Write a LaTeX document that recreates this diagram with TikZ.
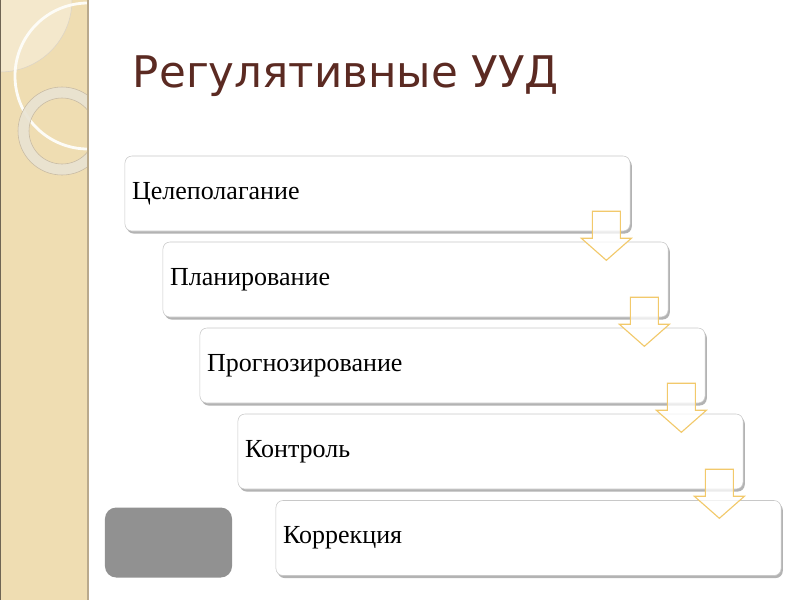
\documentclass[tikz,border=0pt]{standalone}
\usepackage{fontspec}
\setmainfont{Liberation Serif}
\newfontfamily\titlefont{DejaVu Sans}
\usetikzlibrary{shadows,calc}

\definecolor{strip}{HTML}{EFDDB2}
\definecolor{stripedge}{HTML}{B9A98C}
\definecolor{ringfill}{HTML}{E9E3D3}
\definecolor{titlebrown}{HTML}{5B2A22}
\definecolor{arrowgold}{HTML}{F2C96B}
\definecolor{boxline}{HTML}{C8C8C8}

\tikzset{
  stepbox/.style={draw=boxline, fill=white, rounded corners=5pt,
    minimum width=12.625cm, minimum height=1.875cm, text width=12.27cm,
    align=left, inner xsep=5pt, font=\fontsize{18.5}{21}\selectfont,
    drop shadow={shadow xshift=1.2pt, shadow yshift=-1.8pt, opacity=.6}},
  downarrow/.style={draw=arrowgold, line width=.8pt, fill=white, fill opacity=.75}
}

\begin{document}
\begin{tikzpicture}[x=0.025cm, y=-0.025cm]
\useasboundingbox (0,0) rectangle (800,600);
% left strip
\fill[strip] (0,0) rectangle (88,600);
\begin{scope}
\clip (0,0) rectangle (88,600);
\fill[white, opacity=.35] (0,0) circle (72);
\draw[stripedge!50, line width=.4pt] (0,0) circle (72);
\draw[white!90!strip, line width=2pt] (88,76) circle (73);
\draw[ringfill, opacity=.9, line width=7.8pt] (62,131) circle (38.5);
\draw[stripedge!80, line width=.4pt] (62,131) circle (44);
\draw[stripedge!80, line width=.4pt] (62,131) circle (33);
\end{scope}
\draw[stripedge!60!black, line width=1pt] (0,0) -- (0,600);
\draw[stripedge, line width=1pt] (88,0) -- (88,600);
%
\node[anchor=west, text=titlebrown, font=\titlefont\fontsize{31}{37}\selectfont] (title) at (128,76) {Регулятивные УУД};
%
\node[stepbox] (b1) at (377.5,193.5) {Целеполагание};
\node[stepbox] (b2) at (415.5,279.5) {Планирование};
\node[stepbox] (b3) at (452.5,365.5) {Прогнозирование};
\node[stepbox] (b4) at (490.5,451.5) {Контроль};
\node[stepbox] (b5) at (528.5,538) {Коррекция};
%
\foreach \i in {1,2,3,4}
  \draw[downarrow] ($(b\i.south east)+(-38,-20)$) -- ++(28,0) -- ++(0,27) -- ++(11,0)
    -- ++(-25,22) -- ++(-25,-22) -- ++(11,0) -- cycle;
%
\node[fill=black!43, rounded corners=8pt, minimum width=3.175cm, minimum height=1.75cm] (pad) at (168.5,542.5) {};
\end{tikzpicture}
\end{document}
